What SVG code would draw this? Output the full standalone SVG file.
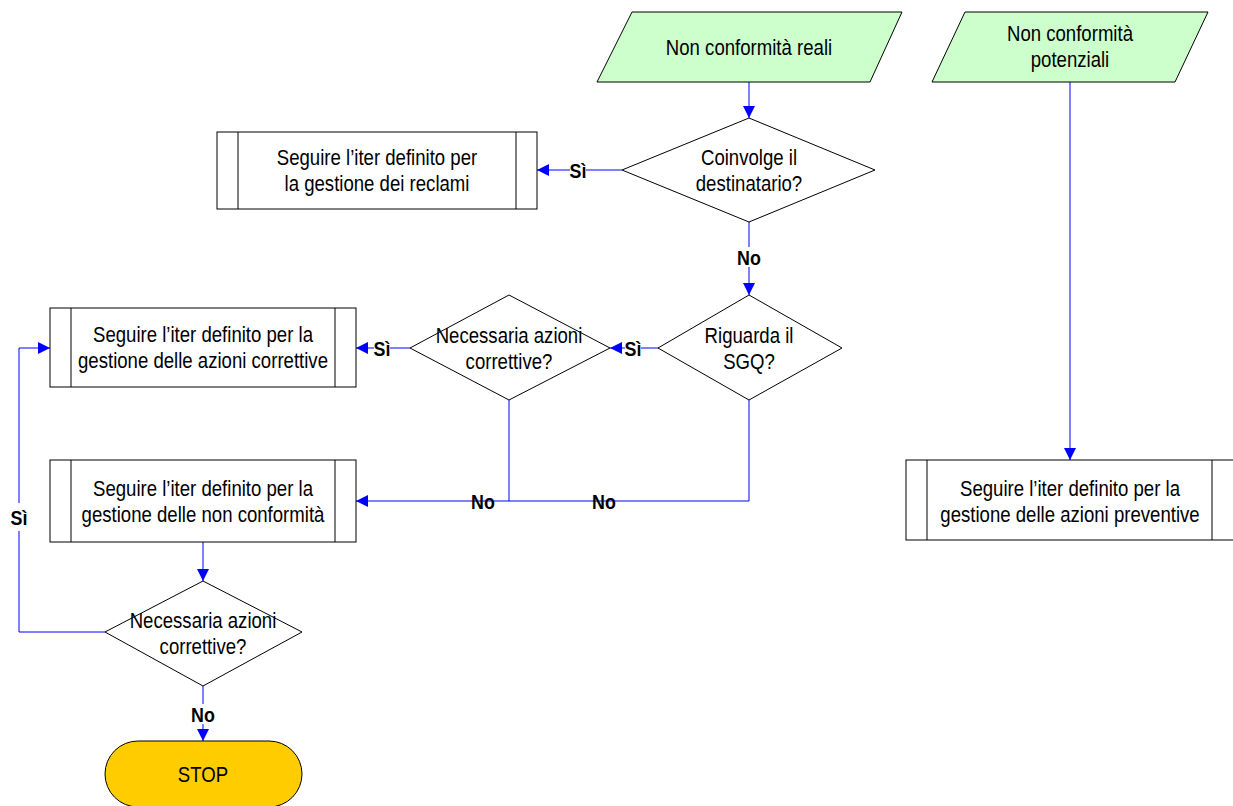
<svg xmlns="http://www.w3.org/2000/svg" width="1233" height="806" viewBox="0 0 1233 806">
  <style>
    .shape { stroke: #000; stroke-width: 1; fill: #fff; }
    .io { fill: #ccffcc; }
    .term { fill: #ffcc00; }
    .inner { stroke: #000; stroke-width: 1; fill: none; }
    .txt { font-family: "Liberation Sans", Arial, sans-serif; font-size: 22px; fill: #000; text-anchor: middle; }
    .lbl { font-family: "Liberation Sans", Arial, sans-serif; font-size: 21px; font-weight: bold; fill: #000; text-anchor: middle; }
    .conn { stroke: #0000ff; stroke-width: 1; fill: none; }
    .bg { fill: #fff; }
  </style>
  <defs>
    <marker id="arrow" markerUnits="userSpaceOnUse" markerWidth="12" markerHeight="12" viewBox="0 0 12 12" refX="12" refY="6" orient="auto">
      <path d="M0,0 L12,6 L0,12 Z" fill="#0000ff"/>
    </marker>
  </defs>

  <rect width="1233" height="806" fill="#fff"/>

  <!-- connectors -->
  <g id="connectors">
    <path class="conn" d="M749,82 V118" marker-end="url(#arrow)"/>
    <path class="conn" d="M622,170 H537" marker-end="url(#arrow)"/>
    <path class="conn" d="M749,222 V295" marker-end="url(#arrow)"/>
    <path class="conn" d="M658,348 H610" marker-end="url(#arrow)"/>
    <path class="conn" d="M410,348 H356" marker-end="url(#arrow)"/>
    <path class="conn" d="M749,400 V501 H356" marker-end="url(#arrow)"/>
    <path class="conn" d="M509,400 V501"/>
    <path class="conn" d="M203,542 V581" marker-end="url(#arrow)"/>
    <path class="conn" d="M105,632 H19 V348 H50" marker-end="url(#arrow)"/>
    <path class="conn" d="M203,686 V741" marker-end="url(#arrow)"/>
    <path class="conn" d="M1070,82 V460" marker-end="url(#arrow)"/>

    <!-- branch labels (condensed) -->
    <rect class="bg" x="570" y="161" width="16" height="20"/>
    <text class="lbl" transform="matrix(0.85 0 0 1 578 178)">Sì</text>
    <rect class="bg" x="737" y="247" width="24" height="20"/>
    <text class="lbl" transform="matrix(0.85 0 0 1 749 265)">No</text>
    <rect class="bg" x="625" y="338" width="16" height="20"/>
    <text class="lbl" transform="matrix(0.85 0 0 1 633 356)">Sì</text>
    <rect class="bg" x="374" y="338" width="16" height="20"/>
    <text class="lbl" transform="matrix(0.85 0 0 1 382 356)">Sì</text>
    <text class="lbl" transform="matrix(0.85 0 0 1 483 509)">No</text>
    <text class="lbl" transform="matrix(0.85 0 0 1 604 509)">No</text>
    <rect class="bg" x="10" y="503" width="18" height="28"/>
    <text class="lbl" transform="matrix(0.85 0 0 1 19 525)">Sì</text>
    <rect class="bg" x="191" y="704" width="24" height="20"/>
    <text class="lbl" transform="matrix(0.85 0 0 1 203 722)">No</text>
  </g>

  <!-- input: actual nonconformities -->
  <g id="nc-reali">
    <polygon class="shape io" points="632,12 902,12 870,82 597,82"/>
    <text class="txt" transform="matrix(0.845 0 0 1 749 55)">Non conformità reali</text>
  </g>

  <!-- input: potential nonconformities -->
  <g id="nc-potenziali">
    <polygon class="shape io" points="965,12 1208,12 1175,82 932,82"/>
    <text class="txt" transform="matrix(0.845 0 0 1 1070 41)">Non conformità</text>
    <text class="txt" transform="matrix(0.845 0 0 1 1070 67)">potenziali</text>
  </g>

  <!-- decision: involves the recipient -->
  <g id="dec-destinatario">
    <polygon class="shape" points="749,118 875,170 749,222 622,170"/>
    <text class="txt" transform="matrix(0.845 0 0 1 749 165)">Coinvolge il</text>
    <text class="txt" transform="matrix(0.845 0 0 1 749 191)">destinatario?</text>
  </g>

  <!-- process: complaints -->
  <g id="proc-reclami">
    <rect class="shape" x="217" y="132" width="320" height="77"/>
    <path class="inner" d="M238,132 V209 M516,132 V209"/>
    <text class="txt" transform="matrix(0.845 0 0 1 377 165)">Seguire l’iter definito per</text>
    <text class="txt" transform="matrix(0.845 0 0 1 377 191)">la gestione dei reclami</text>
  </g>

  <!-- decision: concerns the QMS -->
  <g id="dec-sgq">
    <polygon class="shape" points="749,295 842,348 749,400 658,348"/>
    <text class="txt" transform="matrix(0.845 0 0 1 749 343)">Riguarda il</text>
    <text class="txt" transform="matrix(0.845 0 0 1 749 369)">SGQ?</text>
  </g>

  <!-- decision: corrective actions needed (upper) -->
  <g id="dec-correttive-1">
    <polygon class="shape" points="509,295 610,348 509,400 410,348"/>
    <text class="txt" transform="matrix(0.845 0 0 1 509 343)">Necessaria azioni</text>
    <text class="txt" transform="matrix(0.845 0 0 1 509 369)">correttive?</text>
  </g>

  <!-- process: corrective actions -->
  <g id="proc-correttive">
    <rect class="shape" x="50" y="308" width="306" height="79"/>
    <path class="inner" d="M71,308 V387 M335,308 V387"/>
    <text class="txt" transform="matrix(0.845 0 0 1 203 342)">Seguire l’iter definito per la</text>
    <text class="txt" transform="matrix(0.845 0 0 1 203 368)">gestione delle azioni correttive</text>
  </g>

  <!-- process: nonconformities -->
  <g id="proc-nc">
    <rect class="shape" x="50" y="460" width="306" height="82"/>
    <path class="inner" d="M71,460 V542 M335,460 V542"/>
    <text class="txt" transform="matrix(0.845 0 0 1 203 496)">Seguire l’iter definito per la</text>
    <text class="txt" transform="matrix(0.845 0 0 1 203 522)">gestione delle non conformità</text>
  </g>

  <!-- decision: corrective actions needed (lower) -->
  <g id="dec-correttive-2">
    <polygon class="shape" points="203,581 302,632 203,686 105,632"/>
    <text class="txt" transform="matrix(0.845 0 0 1 203 628)">Necessaria azioni</text>
    <text class="txt" transform="matrix(0.845 0 0 1 203 654)">correttive?</text>
  </g>

  <!-- terminator -->
  <g id="stop">
    <rect class="shape term" x="105" y="741" width="197" height="66" rx="33" ry="33"/>
    <text class="txt" transform="matrix(0.845 0 0 1 203 782)">STOP</text>
  </g>

  <!-- process: preventive actions -->
  <g id="proc-preventive">
    <rect class="shape" x="906" y="460" width="340" height="80"/>
    <path class="inner" d="M927,460 V540 M1212,460 V540"/>
    <text class="txt" transform="matrix(0.845 0 0 1 1070 496)">Seguire l’iter definito per la</text>
    <text class="txt" transform="matrix(0.845 0 0 1 1070 522)">gestione delle azioni preventive</text>
  </g>
</svg>
